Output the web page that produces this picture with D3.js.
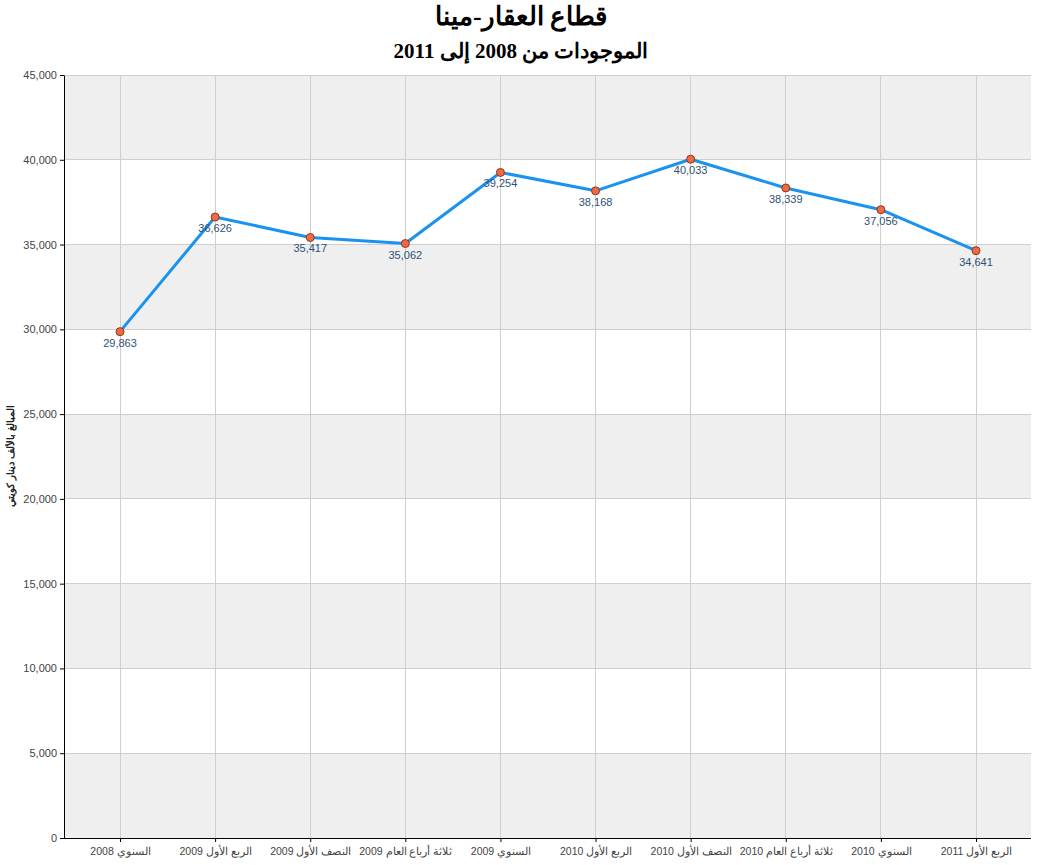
<!DOCTYPE html>
<html><head><meta charset="utf-8">
<script src="https://cdn.jsdelivr.net/npm/d3@7/dist/d3.min.js"></script>
<style>body{margin:0;background:#fff}svg{display:block}</style>
</head><body>
<svg id="c" width="1037" height="865"></svg>
<script>
const categories = ["السنوي 2008","الربع الأول 2009","النصف الأول 2009","ثلاثة أرباع العام 2009","السنوي 2009","الربع الأول 2010","النصف الأول 2010","ثلاثة أرباع العام 2010","السنوي 2010","الربع الأول 2011"];
const values = [29863,36626,35417,35062,39254,38168,40033,38339,37056,34641];
const yTicks = [0,5000,10000,15000,20000,25000,30000,35000,40000,45000];
const title = "قطاع العقار-مينا";
const subtitle = "الموجودات من 2008 إلى 2011";
const yTitle = "المبالغ بالألف دينار كويتي";

const svg = d3.select("#c");
const L = 64, R = 1031, T = 75, B = 838;
const y = d3.scaleLinear().domain([0,45000]).range([B,T]);
const x = d3.scalePoint().domain(categories).range([120,976]);

for (let i = 0; i < yTicks.length-1; i++) {
  if (i % 2 === 0) {
    svg.append("rect").attr("x",L).attr("width",R-L)
      .attr("y",y(yTicks[i+1])).attr("height",y(yTicks[i])-y(yTicks[i+1]))
      .attr("fill","#efefef");
  }
}
svg.append("g").selectAll("line").data(yTicks).join("line")
  .attr("x1",L).attr("x2",R).attr("y1",d=>y(d)).attr("y2",d=>y(d))
  .attr("stroke","#cfcfcf").attr("stroke-width",1).attr("shape-rendering","crispEdges");
svg.append("g").selectAll("line").data(categories).join("line")
  .attr("x1",d=>x(d)).attr("x2",d=>x(d)).attr("y1",T).attr("y2",B)
  .attr("stroke","#cfcfcf").attr("stroke-width",1).attr("shape-rendering","crispEdges");

const yAxis = svg.append("g").attr("transform",`translate(${L},0)`)
  .call(d3.axisLeft(y).tickValues(yTicks).tickFormat(d3.format(",")).tickSize(4).tickSizeOuter(0));
const xAxis = svg.append("g").attr("transform",`translate(0,${B})`)
  .call(d3.axisBottom(x).tickSize(4).tickSizeOuter(0));
xAxis.select(".domain").attr("d",`M${L},0.5H${R}`);
[yAxis,xAxis].forEach(a=>{
  a.selectAll("text").attr("fill","#444").attr("font-family","Liberation Sans, Arial, sans-serif").attr("font-size",11);
  a.select(".domain").attr("stroke","#000");
  a.selectAll(".tick line").attr("stroke","#000");
});
xAxis.selectAll("text").attr("dy","0.95em").attr("font-size",10.5);

svg.append("path").datum(values)
  .attr("fill","none").attr("stroke","#1a92f0").attr("stroke-width",3).attr("stroke-linejoin","round")
  .attr("d", d3.line().x((d,i)=>x(categories[i])).y(d=>y(d)));
svg.append("g").selectAll("circle").data(values).join("circle")
  .attr("cx",(d,i)=>x(categories[i])).attr("cy",d=>y(d)).attr("r",4)
  .attr("fill","#f2683f").attr("stroke","#8a3a1e").attr("stroke-width",1);
svg.append("g").selectAll("text").data(values).join("text")
  .attr("x",(d,i)=>x(categories[i])).attr("y",d=>y(d)+15)
  .attr("text-anchor","middle").attr("fill","#2e5275")
  .attr("font-family","Liberation Sans, Arial, sans-serif").attr("font-size",11)
  .text(d=>d3.format(",")(d));

svg.append("text").attr("x",521).attr("y",25).attr("text-anchor","middle")
  .attr("font-family","Liberation Serif, Times New Roman, serif").attr("font-weight","bold").attr("font-size",26)
  .text(title);
svg.append("text").attr("x",521).attr("y",58).attr("text-anchor","middle")
  .attr("font-family","Liberation Serif, Times New Roman, serif").attr("font-weight","bold").attr("font-size",21)
  .text(subtitle);
svg.append("text").attr("transform","translate(14,456) rotate(-90)").attr("text-anchor","middle")
  .attr("font-family","Liberation Sans, Arial, sans-serif").attr("font-weight","bold").attr("font-size",10)
  .attr("fill","#222").text(yTitle);
</script>
</body></html>
